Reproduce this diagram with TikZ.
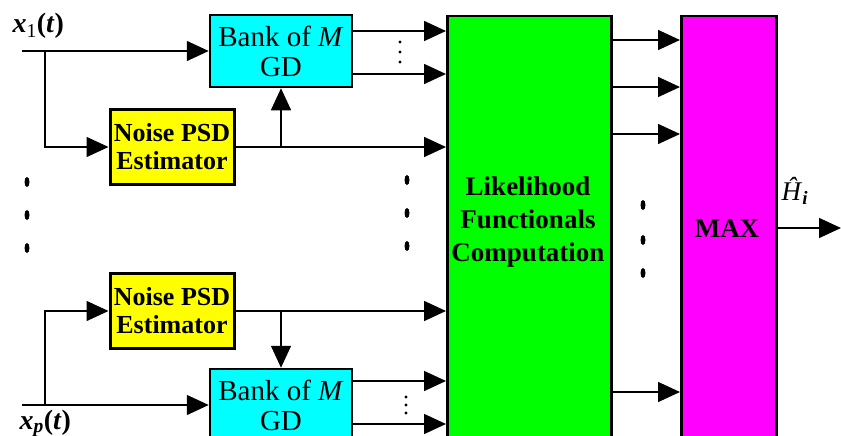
\documentclass[tikz,border=0pt]{standalone}
\usepackage{fontspec}
\setmainfont{Liberation Serif}
\usetikzlibrary{arrows.meta}
\definecolor{gdcyan}{RGB}{0,255,255}
\definecolor{psdyellow}{RGB}{255,255,0}
\definecolor{likgreen}{RGB}{0,255,0}
\definecolor{maxmagenta}{RGB}{255,0,255}

\begin{document}
\begin{tikzpicture}[x=1pt,y=-1pt,
    >={Triangle[length=22pt,width=20pt]},
    wire/.style={line width=1.5pt},
    bankbox/.style={draw,line width=2.5pt,fill=gdcyan,minimum width=142pt,minimum height=72pt,
      align=center,inner sep=0pt,font=\fontsize{29}{30}\selectfont},
    noisebox/.style={draw,line width=3pt,fill=psdyellow,minimum width=124pt,minimum height=75pt,
      align=center,inner sep=0pt,font=\bfseries\fontsize{26}{28}\selectfont},
    tallbox/.style={draw,line width=2.5pt,minimum height=480pt,anchor=north west},
    boldtext/.style={align=center,font=\bfseries\fontsize{27}{33}\selectfont},
    sig/.style={anchor=base west,font=\fontsize{28}{30}\selectfont}]
  \useasboundingbox (0,0) rectangle (841,436);
  \clip (0,0) rectangle (841,436);
  % blocks
  \node[bankbox] (bank1) at (281,51) {Bank of \textit{M}\\GD};
  \node[noisebox] (noise1) at (172,147) {Noise PSD\\Estimator};
  \node[noisebox] (noise2) at (172,311) {Noise PSD\\Estimator};
  \node[bankbox] (bank2) at (281,405) {Bank of \textit{M}\\GD};
  \node[tallbox,fill=likgreen,minimum width=164pt] (lik) at (446,15) {};
  \node[boldtext] (liktext) at (528,222) {Likelihood\\Functionals\\Computation};
  \node[tallbox,fill=maxmagenta,minimum width=95pt] (max) at (680,15) {};
  \node[boldtext] (maxtext) at (727,229) {MAX};
  % signals
  \node[sig] (x1) at (9,33) {\textbf{\textit{x}}\textsubscript{1}\textbf{(\textit{t})}};
  \node[sig] (xp) at (16,429) {\textbf{\textit{x}}\textsubscript{\textbf{\textit{p}}}\textbf{(\textit{t})}};
  \node[sig,font=\fontsize{27}{28}\selectfont] (hhat) at (778,200) {\textit{Ĥ}\textsubscript{\textbf{\textit{i}}}};
  \coordinate (in1) at (22,51);
  \coordinate (sp1) at (45,51);
  \coordinate (in2) at (22,405);
  \coordinate (sp2) at (45,405);
  \coordinate (tap1) at (noise1.east -| bank1.south);
  \coordinate (tap2) at (noise2.east -| bank2.north);
  \coordinate (out) at (841,228);
  % upper channel
  \draw[wire,->] (in1) -- (bank1.west);
  \draw[wire,->] (sp1) |- (noise1.west);
  \draw[wire,->] (noise1.east) -- (lik.west |- noise1.east);
  \draw[wire,->] (tap1) -- (bank1.south);
  \draw[wire,->] (bank1.east |- 0,31) -- (lik.west |- 0,31);
  \draw[wire,->] (bank1.east |- 0,74) -- (lik.west |- 0,74);
  % lower channel
  \draw[wire,->] (in2) -- (bank2.west);
  \draw[wire,->] (sp2) |- (noise2.west);
  \draw[wire,->] (noise2.east) -- (lik.west |- noise2.east);
  \draw[wire,->] (tap2) -- (bank2.north);
  \draw[wire,->] (bank2.east |- 0,381) -- (lik.west |- 0,381);
  \draw[wire,->] (bank2.east |- 0,424) -- (lik.west |- 0,424);
  % likelihoods to max
  \foreach \y in {40,87,134,392}
    \draw[wire,->] (lik.east |- 0,\y) -- (max.west |- 0,\y);
  \draw[wire,->] (max.east |- out) -- (out);
  % dots
  \foreach \y in {182,215,248} \fill (27,\y) ellipse (2.5 and 5);
  \foreach \y in {180,213,246} \fill (407,\y) ellipse (2.5 and 5);
  \foreach \y in {205,240,273} \fill (643,\y) ellipse (2.5 and 5);
  \foreach \y in {42,52,62} \fill (400,\y) circle (1.6);
  \foreach \y in {397,405,413} \fill (406,\y) circle (1.6);
\end{tikzpicture}
\end{document}
